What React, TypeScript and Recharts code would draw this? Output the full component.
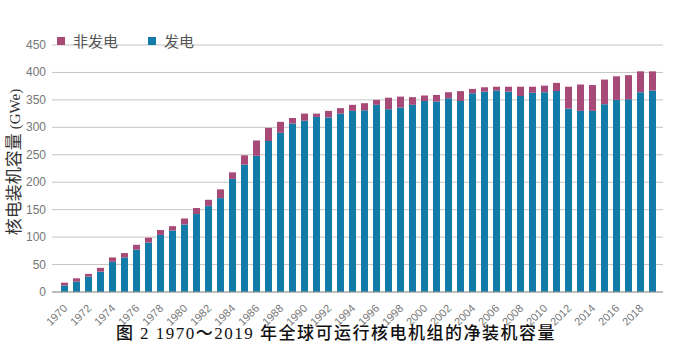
import React from 'react';
import { BarChart, Bar, XAxis, YAxis, CartesianGrid, Legend } from 'recharts';

// 1970–2019 net installed capacity (GWe)
const years = [
  1970, 1971, 1972, 1973, 1974, 1975, 1976, 1977, 1978, 1979,
  1980, 1981, 1982, 1983, 1984, 1985, 1986, 1987, 1988, 1989,
  1990, 1991, 1992, 1993, 1994, 1995, 1996, 1997, 1998, 1999,
  2000, 2001, 2002, 2003, 2004, 2005, 2006, 2007, 2008, 2009,
  2010, 2011, 2012, 2013, 2014, 2015, 2016, 2017, 2018, 2019,
];
const powerGen = [
  12, 19, 28, 37, 55, 63, 77, 90, 104, 112,
  123, 142, 157, 171, 206, 232, 248, 275, 290, 307,
  312, 319, 318, 325, 330, 331, 341, 333, 336, 341,
  348, 347, 353, 348, 362, 365, 367, 365, 357, 363,
  364, 366, 334, 330, 330, 342, 350, 351, 364, 367,
];
const nonPowerGen = [
  5, 6, 5, 7, 8, 8, 9, 9, 9, 8,
  11, 11, 11, 16, 12, 17, 28, 24, 20, 10,
  13, 6, 12, 10, 11, 13, 9, 21, 20, 14,
  10, 12, 11, 18, 8, 8, 7, 9, 17, 11,
  12, 15, 40, 48, 47, 45, 43, 44, 38, 35,
];
const yTicks = [0, 50, 100, 150, 200, 250, 300, 350, 400, 450];

const BLUE = '#127ba8';
const PURPLE = '#a84a78';
const TICK_FONT = "'Liberation Sans', 'Open Sans', sans-serif";
const CJK_FONT = "'Noto Sans CJK SC', sans-serif";

const chartData = years.map((y, i) => ({
  year: String(y),
  power: powerGen[i],
  nonPower: nonPowerGen[i],
}));

function YearTick(props: any) {
  const { x, y, payload } = props;
  const tx = x + 4;
  const ty = y + 9;
  return (
    <text
      x={tx}
      y={ty}
      transform={`rotate(-45, ${tx}, ${ty})`}
      textAnchor="end"
      fill="#777"
      fontSize={11}
      fontFamily={TICK_FONT}
    >
      {payload.value}
    </text>
  );
}

function ValueTick(props: any) {
  const { x, y, payload } = props;
  return (
    <text x={x + 2} y={y + 4} textAnchor="end" fill="#777" fontSize={12} fontFamily={TICK_FONT}>
      {payload.value}
    </text>
  );
}

function LegendBox() {
  const items = [
    { label: '非发电', color: PURPLE },
    { label: '发电', color: BLUE },
  ];
  return (
    <div style={{ display: 'flex', fontFamily: CJK_FONT, fontSize: 15, color: '#555' }}>
      {items.map((it) => (
        <div key={it.label} style={{ display: 'flex', alignItems: 'center', marginRight: 30 }}>
          <span style={{ width: 8, height: 8, background: it.color, marginRight: 8 }} />
          <span>{it.label}</span>
        </div>
      ))}
    </div>
  );
}

export default function App() {
  return (
    <div style={{ position: 'absolute', left: 0, top: 0, width: 692, height: 350, background: '#fff' }}>
      <BarChart
        width={692}
        height={350}
        data={chartData}
        margin={{ top: 24, right: 29, left: 8, bottom: 30 }}
      >
        <CartesianGrid vertical={false} stroke="#c4c4c4" />
        <XAxis
          dataKey="year"
          interval={1}
          tick={<YearTick />}
          tickLine={false}
          axisLine={{ stroke: '#999' }}
          padding={{ left: 6, right: 5 }}
          height={28}
        />
        <YAxis
          domain={[0, 450]}
          ticks={yTicks}
          tick={<ValueTick />}
          tickLine={false}
          axisLine={false}
          width={44}
        />
        <Legend
          verticalAlign="top"
          align="left"
          content={<LegendBox />}
          wrapperStyle={{ top: 30, left: 57, width: 200 }}
        />
        <Bar dataKey="power" stackId="a" fill={BLUE} barSize={7} isAnimationActive={false} />
        <Bar dataKey="nonPower" stackId="a" fill={PURPLE} barSize={7} isAnimationActive={false} />
      </BarChart>
      <div
        style={{
          position: 'absolute',
          left: 13,
          top: 162,
          transform: 'translate(-50%, -50%) rotate(-90deg)',
          whiteSpace: 'nowrap',
          fontFamily: "'Noto Sans CJK SC', sans-serif",
          fontSize: 17,
          color: '#333',
          lineHeight: 1,
        }}
      >
        核电装机容量 <span style={{ fontFamily: "'Liberation Serif', serif", fontSize: 15 }}>(GWe)</span>
      </div>
      <div
        style={{
          position: 'absolute',
          left: 0,
          top: 319,
          width: 692,
          textAlign: 'center',
          fontFamily: "'Liberation Serif', 'Noto Sans CJK SC', serif",
          fontSize: 17,
          fontWeight: 500,
          letterSpacing: 1.5,
          color: '#111',
          paddingRight: 20,
          boxSizing: 'border-box',
        }}
      >
        图 2 1970～2019 年全球可运行核电机组的净装机容量
      </div>
    </div>
  );
}
